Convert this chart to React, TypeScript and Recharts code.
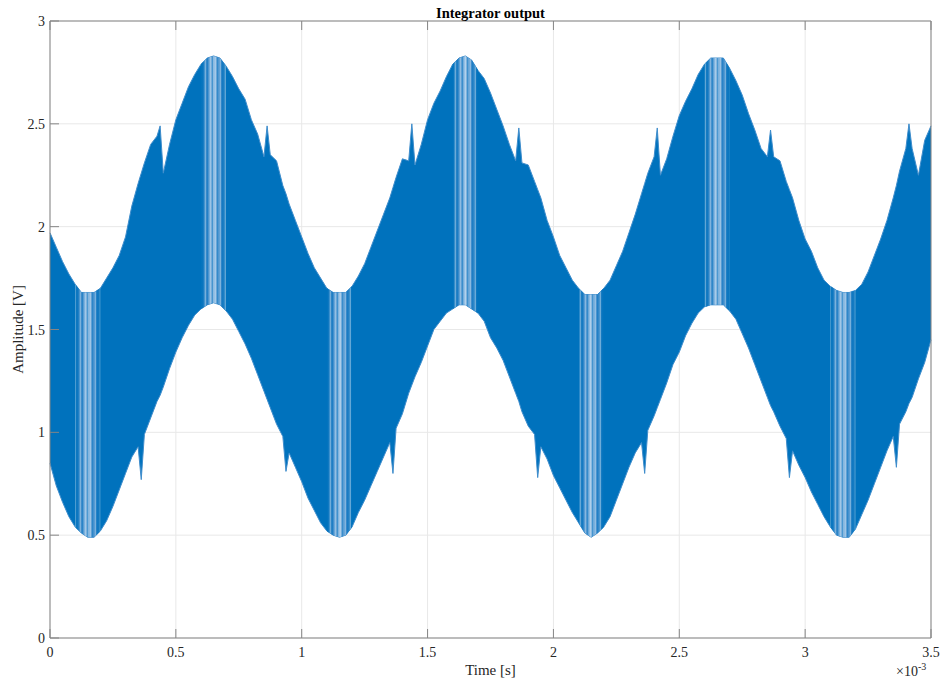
import { ComposedChart, Area, XAxis, YAxis, CartesianGrid, Label } from 'recharts';

const WIDTH = 941;
const HEIGHT = 682;
const BLUE = '#0072BD';
const EDGE = '#3f8dcc';
const AXIS = '#858585';
const TEXT = '#262626';
const GRID = '#e8e8e8';
const FONT = '"Liberation Serif", "Times New Roman", serif';

// samples every 0.025 ms, 0 .. 3.5 ms
const STEP_MS = 0.025;

// upper edge of the integrator output band [V]
const UPPER = [
  1.97, 1.9, 1.83, 1.77, 1.72, 1.68, 1.68, 1.68, 1.7, 1.75, 1.8, 1.86, 1.95, 2.1, 2.21, 2.31, 2.4, 2.44, 2.26, 2.4,
  2.52, 2.6, 2.68, 2.74, 2.79, 2.82, 2.83, 2.82, 2.78, 2.73, 2.67, 2.62, 2.52, 2.45, 2.34, 2.35, 2.32, 2.2, 2.11, 2.03,
  1.95, 1.87, 1.8, 1.75, 1.7, 1.68, 1.68, 1.68, 1.71, 1.76, 1.82, 1.9, 1.98, 2.06, 2.14, 2.24, 2.33, 2.32, 2.3, 2.4,
  2.52, 2.6, 2.66, 2.73, 2.79, 2.82, 2.83, 2.81, 2.76, 2.72, 2.65, 2.57, 2.49, 2.4, 2.32, 2.31, 2.3, 2.22, 2.14, 2.03,
  1.95, 1.86, 1.8, 1.74, 1.7, 1.67, 1.67, 1.67, 1.7, 1.74, 1.81, 1.88, 1.97, 2.06, 2.16, 2.26, 2.34, 2.25, 2.33, 2.44,
  2.54, 2.61, 2.67, 2.74, 2.79, 2.82, 2.82, 2.82, 2.77, 2.71, 2.64, 2.55, 2.47, 2.38, 2.34, 2.34, 2.32, 2.22, 2.14, 2.03,
  1.94, 1.88, 1.8, 1.74, 1.71, 1.69, 1.68, 1.68, 1.69, 1.72, 1.78, 1.86, 1.94, 2.03, 2.14, 2.27, 2.38, 2.38, 2.25, 2.42,
  2.49,
];

// lower edge of the band [V]
const LOWER = [
  0.85, 0.74, 0.66, 0.59, 0.54, 0.51, 0.49, 0.49, 0.52, 0.57, 0.64, 0.72, 0.8, 0.88, 0.93, 0.99, 1.07, 1.15, 1.22, 1.31,
  1.39, 1.46, 1.52, 1.57, 1.6, 1.62, 1.63, 1.62, 1.59, 1.55, 1.49, 1.43, 1.36, 1.28, 1.2, 1.12, 1.04, 0.98, 0.9, 0.83,
  0.76, 0.68, 0.62, 0.56, 0.52, 0.5, 0.49, 0.5, 0.54, 0.61, 0.67, 0.74, 0.81, 0.88, 0.95, 1.02, 1.09, 1.19, 1.27, 1.34,
  1.42, 1.5, 1.54, 1.58, 1.6, 1.62, 1.62, 1.6, 1.58, 1.54, 1.46, 1.41, 1.35, 1.27, 1.19, 1.1, 1.03, 0.99, 0.93, 0.87,
  0.79, 0.73, 0.67, 0.61, 0.56, 0.51, 0.49, 0.51, 0.54, 0.59, 0.67, 0.75, 0.83, 0.9, 0.95, 1.01, 1.08, 1.16, 1.24, 1.33,
  1.39, 1.47, 1.53, 1.58, 1.61, 1.62, 1.62, 1.62, 1.59, 1.55, 1.48, 1.41, 1.33, 1.25, 1.17, 1.1, 1.03, 0.97, 0.91, 0.84,
  0.78, 0.71, 0.65, 0.59, 0.54, 0.5, 0.49, 0.49, 0.53, 0.6, 0.67, 0.75, 0.83, 0.91, 0.98, 1.04, 1.1, 1.17, 1.26, 1.34,
  1.45,
];

// isolated needles sticking out of the band: time [ms], low and high edge [V]
const SPIKE_T = [0.3625, 0.4375, 0.8625, 0.9375, 1.3625, 1.4375, 1.8625, 1.9375, 2.3625, 2.4125, 2.8625, 2.9375, 3.3625, 3.4125];
const SPIKE_LO = [0.77, 1.18, 1.16, 0.81, 0.8, 1.23, 1.15, 0.78, 0.8, 1.12, 1.13, 0.78, 0.83, 1.14];
const SPIKE_HI = [2.26, 2.49, 2.49, 2.16, 2.19, 2.5, 2.48, 2.18, 2.21, 2.48, 2.47, 2.18, 2.2, 2.5];

// turning points where the carrier slows down and the trace shows separate strokes
const STRIPE_CENTERS_MS = [0.15, 0.65, 1.15, 1.65, 2.15, 2.65, 3.15];
const STRIPE_HALF_MS = 0.05;

const X_TICKS = [0, 0.5, 1, 1.5, 2, 2.5, 3, 3.5];
const Y_TICKS = [0, 0.5, 1, 1.5, 2, 2.5, 3];

const rows = [
  ...UPPER.map((hi, i) => ({ t: +(i * STEP_MS).toFixed(4), lo: LOWER[i], hi })),
  ...SPIKE_T.map((t, i) => ({ t, lo: SPIKE_LO[i], hi: SPIKE_HI[i] })),
].sort((a, b) => a.t - b.t);

// one key per stripe window so each gets its own gradient box
const data = rows.map(({ t, lo, hi }) => {
  const row: Record<string, any> = { t, band: [lo, hi] };
  STRIPE_CENTERS_MS.forEach((c, k) => {
    row[`s${k}`] = Math.abs(t - c) <= STRIPE_HALF_MS + 1e-9 ? [lo, hi] : null;
  });
  return row;
});

const TICK_LEN = 9;
const GAP = 6;
const fmt = (v: number) => String(v);

// MATLAB-style ticks point into the axes box
function BottomTick({ x, y, payload }: any) {
  const edge = y - GAP;
  return (
    <g>
      <line x1={x} x2={x} y1={edge} y2={edge - TICK_LEN} stroke={AXIS} />
      <text x={x} y={edge + 19} textAnchor="middle" fill={TEXT} fontSize={14} fontFamily={FONT}>
        {fmt(payload.value)}
      </text>
    </g>
  );
}

function TopTick({ x, y }: any) {
  const edge = y + GAP;
  return <line x1={x} x2={x} y1={edge} y2={edge + TICK_LEN} stroke={AXIS} />;
}

function LeftTick({ x, y, payload }: any) {
  const edge = x + GAP;
  return (
    <g>
      <line x1={edge} x2={edge + TICK_LEN} y1={y} y2={y} stroke={AXIS} />
      <text x={edge - 5} y={y + 5} textAnchor="end" fill={TEXT} fontSize={14} fontFamily={FONT}>
        {fmt(payload.value)}
      </text>
    </g>
  );
}

function RightTick({ x, y }: any) {
  const edge = x - GAP;
  return <line x1={edge} x2={edge - TICK_LEN} y1={y} y2={y} stroke={AXIS} />;
}

export default function App() {
  return (
    <div style={{ position: 'absolute', left: 0, top: 0, width: WIDTH, height: HEIGHT, background: '#fff' }}>
      <ComposedChart width={WIDTH} height={HEIGHT} data={data} margin={{ top: 0, right: 0, bottom: 0, left: 0 }}>
        <defs>
          <linearGradient id="stripeGlow" x1="0" y1="0" x2="1" y2="0">
            <stop offset="0%" stopColor={BLUE} />
            <stop offset="25%" stopColor="#3e8ccc" />
            <stop offset="50%" stopColor="#8dbbe2" />
            <stop offset="75%" stopColor="#3e8ccc" />
            <stop offset="100%" stopColor={BLUE} />
          </linearGradient>
          <pattern id="stripeLines" patternUnits="userSpaceOnUse" width={5} height={8}>
            <rect x={0} y={0} width={1} height={8} fill="#ffffff" fillOpacity={0.35} />
            <rect x={2} y={0} width={1} height={8} fill={BLUE} fillOpacity={0.45} />
            <rect x={4} y={0} width={1} height={8} fill="#ffffff" fillOpacity={0.15} />
          </pattern>
        </defs>
        <CartesianGrid stroke={GRID} />
        <XAxis
          dataKey="t"
          type="number"
          domain={[0, 3.5]}
          ticks={X_TICKS}
          interval={0}
          height={44}
          tickSize={0}
          tickMargin={GAP}
          tickLine={false}
          axisLine={{ stroke: AXIS }}
          tick={<BottomTick />}
        >
          <Label
            value="Time [s]"
            position="insideBottom"
            offset={7}
            style={{ fill: TEXT, fontSize: 15, fontFamily: FONT }}
          />
        </XAxis>
        <XAxis
          xAxisId="top"
          orientation="top"
          dataKey="t"
          type="number"
          domain={[0, 3.5]}
          ticks={X_TICKS}
          interval={0}
          height={21}
          tickSize={0}
          tickMargin={GAP}
          tickLine={false}
          axisLine={{ stroke: AXIS }}
          tick={<TopTick />}
        />
        <YAxis
          type="number"
          domain={[0, 3]}
          ticks={Y_TICKS}
          interval={0}
          width={50}
          tickSize={0}
          tickMargin={GAP}
          tickLine={false}
          axisLine={{ stroke: AXIS }}
          tick={<LeftTick />}
        >
          <Label
            value="Amplitude [V]"
            angle={-90}
            position="insideLeft"
            offset={18}
            style={{ fill: TEXT, fontSize: 15, fontFamily: FONT, textAnchor: 'middle' }}
          />
        </YAxis>
        <YAxis
          yAxisId="right"
          orientation="right"
          type="number"
          domain={[0, 3]}
          ticks={Y_TICKS}
          interval={0}
          width={10}
          tickSize={0}
          tickMargin={GAP}
          tickLine={false}
          axisLine={{ stroke: AXIS }}
          tick={<RightTick />}
        />
        <Area
          dataKey="band"
          type="linear"
          fill={BLUE}
          fillOpacity={1}
          stroke={EDGE}
          strokeWidth={1}
          dot={false}
          activeDot={false}
          isAnimationActive={false}
        />
        {STRIPE_CENTERS_MS.map((c, k) => (
          <Area
            key={`glow${k}`}
            dataKey={`s${k}`}
            type="linear"
            fill="url(#stripeGlow)"
            fillOpacity={1}
            stroke="none"
            dot={false}
            activeDot={false}
            isAnimationActive={false}
          />
        ))}
        {STRIPE_CENTERS_MS.map((c, k) => (
          <Area
            key={`lines${k}`}
            dataKey={`s${k}`}
            type="linear"
            fill="url(#stripeLines)"
            fillOpacity={1}
            stroke="none"
            dot={false}
            activeDot={false}
            isAnimationActive={false}
          />
        ))}
      </ComposedChart>
      <div
        style={{
          position: 'absolute',
          left: 50,
          width: 881,
          top: 6,
          textAlign: 'center',
          fontFamily: FONT,
          fontWeight: 'bold',
          fontSize: 14.5,
          lineHeight: 1,
          color: '#000',
        }}
      >
        Integrator output
      </div>
      <div
        style={{
          position: 'absolute',
          left: 896,
          top: 662,
          fontFamily: FONT,
          fontSize: 14,
          lineHeight: 1,
          color: TEXT,
          whiteSpace: 'nowrap',
        }}
      >
        ×10<sup style={{ fontSize: 10, verticalAlign: 6 }}>-3</sup>
      </div>
    </div>
  );
}
